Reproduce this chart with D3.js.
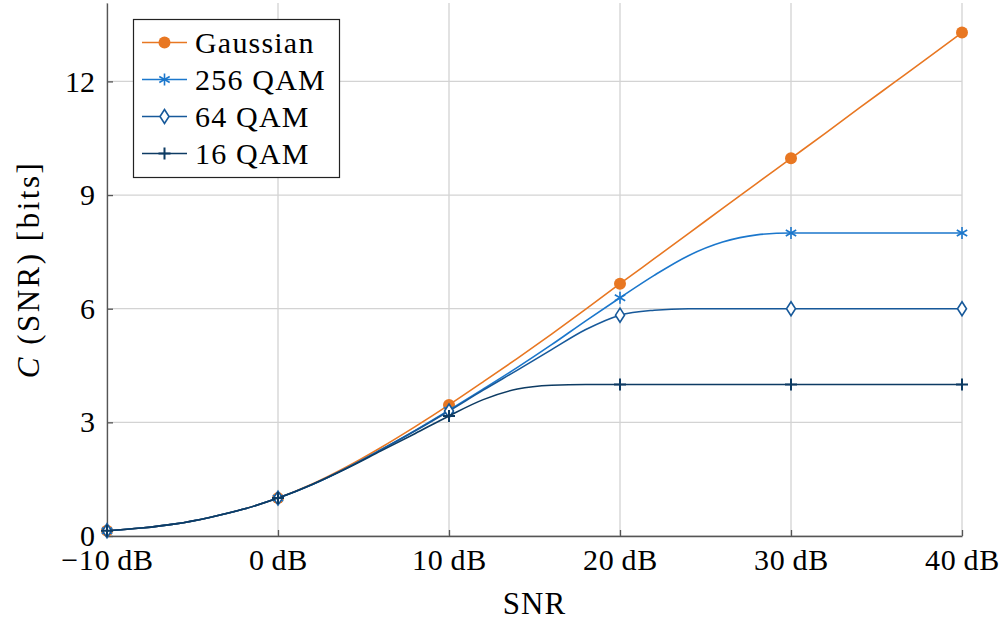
<!DOCTYPE html>
<html>
<head>
  <meta charset="utf-8">
  <title>Capacity vs SNR</title>
  <script src="https://d3js.org/d3.v7.min.js"></script>
  <style>
    body { margin: 0; background: #fff; }
    text { font-family: "Liberation Serif", "DejaVu Serif", serif; fill: #000; }
  </style>
</head>
<body>
<svg id="chart" width="1002" height="626"></svg>
<script>
  // data (SNR in dB, capacity in bits)
  var snr      = [-10, -8, -6, -4, -2, 0, 2, 4, 6, 8, 10, 12, 14, 16, 18, 20, 22, 24, 26, 28, 30, 32, 34, 36, 38, 40];
  var gaussian = [0.14, 0.21, 0.32, 0.49, 0.71, 1.0, 1.37, 1.82, 2.33, 2.88, 3.46, 4.07, 4.69, 5.33, 5.99, 6.66, 7.32, 7.98, 8.65, 9.31, 9.97, 10.63, 11.30, 11.96, 12.62, 13.29];
  var qam256   = [0.14, 0.21, 0.32, 0.49, 0.71, 1.0, 1.36, 1.79, 2.27, 2.78, 3.32, 3.88, 4.45, 5.05, 5.68, 6.29, 6.88, 7.40, 7.76, 7.95, 8.0, 8.0, 8.0, 8.0, 8.0, 8.0];
  var qam64    = [0.14, 0.21, 0.32, 0.49, 0.71, 1.0, 1.36, 1.79, 2.27, 2.77, 3.30, 3.85, 4.38, 4.92, 5.45, 5.83, 5.96, 6.0, 6.0, 6.0, 6.0, 6.0, 6.0, 6.0, 6.0, 6.0];
  var qam16    = [0.14, 0.21, 0.32, 0.49, 0.71, 1.0, 1.36, 1.78, 2.24, 2.70, 3.17, 3.60, 3.88, 3.98, 4.0, 4.0, 4.0, 4.0, 4.0, 4.0, 4.0, 4.0, 4.0, 4.0, 4.0, 4.0];
  var markerSnr = [-10, 0, 10, 20, 30, 40];
  var xTicks = [-10, 0, 10, 20, 30, 40];
  var yTicks = [0, 3, 6, 9, 12];

  var series = [
    { name: "Gaussian", values: gaussian, color: "#e87722", marker: "circle" },
    { name: "256 QAM",  values: qam256,   color: "#1b77cc", marker: "star" },
    { name: "64 QAM",   values: qam64,    color: "#17599a", marker: "diamond" },
    { name: "16 QAM",   values: qam16,    color: "#0d3b63", marker: "plus" }
  ];

  var svg = d3.select("#chart");
  var plotL = 107, plotR = 962, plotT = 3, plotB = 536;

  var x = d3.scaleLinear().domain([-10, 40]).range([plotL, plotR]);
  var y = d3.scaleLinear().domain([0, 14.07]).range([plotB, plotT]);

  // grid
  svg.append("g").selectAll("line").data(xTicks).enter().append("line")
    .attr("x1", d => x(d)).attr("x2", d => x(d))
    .attr("y1", plotB).attr("y2", plotT)
    .attr("stroke", "#d3d3d3").attr("stroke-width", 1.3);
  svg.append("g").selectAll("line").data(yTicks).enter().append("line")
    .attr("x1", plotL).attr("x2", plotR)
    .attr("y1", d => y(d)).attr("y2", d => y(d))
    .attr("stroke", "#d3d3d3").attr("stroke-width", 1.3);

  // axes
  var xAxis = d3.axisBottom(x).tickValues(xTicks).tickSizeInner(-6).tickSizeOuter(0)
    .tickFormat(d => (d < 0 ? "\u2212" + Math.abs(d) : d) + "\u2009dB");
  var gx = svg.append("g").attr("transform", "translate(0," + plotB + ")").call(xAxis);
  gx.select(".domain").attr("stroke", "#555").attr("stroke-width", 1.3);
  gx.selectAll(".tick line").attr("stroke", "#555").attr("stroke-width", 1.3);
  gx.selectAll(".tick text").attr("y", 13).attr("font-size", 30).attr("letter-spacing", 0.8)
    .attr("font-family", "Liberation Serif").attr("fill", "#000");

  var yAxis = d3.axisLeft(y).tickValues(yTicks).tickSizeInner(-6).tickSizeOuter(0);
  var gy = svg.append("g").attr("transform", "translate(" + plotL + ",0)").call(yAxis);
  gy.select(".domain").attr("stroke", "#555").attr("stroke-width", 1.3);
  gy.selectAll(".tick line").attr("stroke", "#555").attr("stroke-width", 1.3);
  gy.selectAll(".tick text").attr("x", -12).attr("font-size", 30).attr("font-family", "Liberation Serif").attr("fill", "#000");

  // axis labels
  svg.append("text").attr("x", (plotL + plotR) / 2).attr("y", 614)
    .attr("text-anchor", "middle").attr("font-size", 31).attr("letter-spacing", 1).text("SNR");
  var yl = svg.append("text").attr("transform", "translate(39," + (plotT + plotB) / 2 + ") rotate(-90)")
    .attr("text-anchor", "middle").attr("font-size", 31).attr("letter-spacing", 2.5);
  yl.append("tspan").attr("font-style", "italic").text("C");
  yl.append("tspan").text(" (SNR) [bits]");

  // lines
  var line = d3.line().x(d => x(d[0])).y(d => y(d[1])).curve(d3.curveMonotoneX);

  function drawMarker(g, type, color) {
    if (type === "circle") {
      g.append("circle").attr("r", 6).attr("fill", color);
    } else if (type === "star") {
      [0, 60, 120].forEach(function (a) {
        g.append("line").attr("x1", 0).attr("y1", -6).attr("x2", 0).attr("y2", 6)
          .attr("transform", "rotate(" + a + ")").attr("stroke", color).attr("stroke-width", 1.6);
      });
    } else if (type === "diamond") {
      g.append("path").attr("d", "M0,-7L4.5,0L0,7L-4.5,0Z")
        .attr("fill", "#fff").attr("stroke", color).attr("stroke-width", 1.6);
    } else {
      g.append("path").attr("d", "M-6,0H6M0,-6V6").attr("stroke", color).attr("stroke-width", 2);
    }
  }

  series.forEach(function (s) {
    var pts = snr.map((v, i) => [v, s.values[i]]);
    svg.append("path").datum(pts).attr("d", line)
      .attr("fill", "none").attr("stroke", s.color).attr("stroke-width", 1.6);
    pts.filter(p => markerSnr.indexOf(p[0]) >= 0).forEach(function (p) {
      var g = svg.append("g").attr("transform", "translate(" + x(p[0]) + "," + y(p[1]) + ")");
      drawMarker(g, s.marker, s.color);
    });
  });

  // legend
  var lg = svg.append("g");
  lg.append("rect").attr("x", 133.5).attr("y", 19.5).attr("width", 206).attr("height", 158)
    .attr("fill", "#fff").attr("stroke", "#222").attr("stroke-width", 1.2);
  series.forEach(function (s, i) {
    var cy = 42.5 + i * 37;
    lg.append("line").attr("x1", 142).attr("x2", 187).attr("y1", cy).attr("y2", cy)
      .attr("stroke", s.color).attr("stroke-width", 1.6);
    drawMarker(lg.append("g").attr("transform", "translate(164.5," + cy + ")"), s.marker, s.color);
    lg.append("text").attr("x", 195).attr("y", cy + 10).attr("font-size", 30)
      .attr("letter-spacing", 1.2).text(s.name);
  });
</script>
</body>
</html>
